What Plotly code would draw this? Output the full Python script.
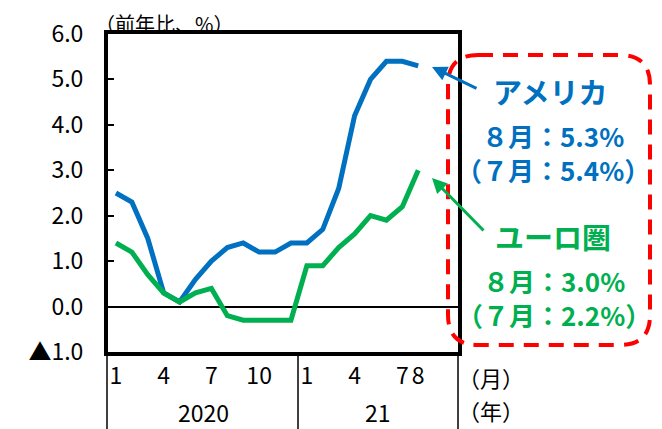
import plotly.graph_objects as go

months_idx = list(range(20))  # Jan 2020 .. Aug 2021
us_cpi = [2.5, 2.3, 1.5, 0.3, 0.1, 0.6, 1.0, 1.3, 1.4, 1.2, 1.2, 1.4,
          1.4, 1.7, 2.6, 4.2, 5.0, 5.4, 5.4, 5.3]
euro_cpi = [1.4, 1.2, 0.7, 0.3, 0.1, 0.3, 0.4, -0.2, -0.3, -0.3, -0.3, -0.3,
            0.9, 0.9, 1.3, 1.6, 2.0, 1.9, 2.2, 3.0]

x_tickvals = [0, 3, 6, 9, 12, 15, 18, 19]
x_ticktext = ["1", "4", "7", "10", "1", "4", "7", "8"]
y_tickvals = [-1, 0, 1, 2, 3, 4, 5, 6]
y_ticktext = ["▲1.0", "0.0", "1.0", "2.0", "3.0", "4.0", "5.0", "6.0"]
years = ["2020", "21"]
year_centers = [5.5, 16.5]

BLUE = "#0070C0"
GREEN = "#00B050"
FONT = "Noto Sans CJK JP"

fig = go.Figure()
fig.add_trace(go.Scatter(x=months_idx, y=us_cpi, mode="lines",
                         line=dict(color=BLUE, width=5), name="アメリカ"))
fig.add_trace(go.Scatter(x=months_idx, y=euro_cpi, mode="lines",
                         line=dict(color=GREEN, width=5), name="ユーロ圏"))

# the page body adds an 8px offset; screen coordinates are used below
OFF = 8
SL, SR, ST, SB = 108, 458, 34, 352   # plot area in screen pixels
W, H = 662 - OFF, 429 - OFF
L, T = SL - OFF, ST - OFF
R, B = 662 - SR, 429 - SB
pw, ph = SR - SL, SB - ST

def px(x):
    return (x - SL) / pw

def py(y):
    return (SB - y) / ph

fig.update_layout(
    width=W, height=H,
    margin=dict(l=L, r=R, t=T, b=B, pad=0, autoexpand=False),
    paper_bgcolor="white", plot_bgcolor="white",
    showlegend=False,
    font=dict(family=FONT, color="black"),
    xaxis=dict(range=[-0.5, 21.5], tickmode="array", tickvals=x_tickvals,
               ticktext=x_ticktext, tickangle=0, showgrid=False, zeroline=False,
               showline=True, linecolor="black", linewidth=4, mirror=True,
               ticks="", ticklabelstandoff=0, automargin=False,
               tickfont=dict(size=23, family=FONT, color="black")),
    yaxis=dict(range=[-1, 6], tickmode="array", tickvals=y_tickvals,
               ticktext=y_ticktext, showgrid=False, automargin=False,
               zeroline=True, zerolinecolor="black", zerolinewidth=1.5,
               showline=True, linecolor="black", linewidth=4, mirror=True,
               ticks="inside", ticklen=6, tickwidth=2, tickcolor="black",
               ticklabelstandoff=16,
               tickfont=dict(size=23, family=FONT, color="black")),
)

shapes = []
# group dividers below the x axis
for xp in [107, 298, 458]:
    shapes.append(dict(type="line", xref="paper", yref="paper",
                       x0=px(xp), x1=px(xp), y0=py(352), y1=py(432),
                       line=dict(color="black", width=1.5)))

# red dashed rounded box
x0, x1 = px(448), px(650)
yt, yb = py(55), py(345)
rx, ry = 30 / pw, 30 / ph
path = (f"M {x0+rx},{yt} L {x1-rx},{yt} Q {x1},{yt} {x1},{yt-ry} "
        f"L {x1},{yb+ry} Q {x1},{yb} {x1-rx},{yb} "
        f"L {x0+rx},{yb} Q {x0},{yb} {x0},{yb+ry} "
        f"L {x0},{yt-ry} Q {x0},{yt} {x0+rx},{yt} Z")
shapes.append(dict(type="path", xref="paper", yref="paper", path=path,
                   line=dict(color="#FF0000", width=4, dash="15px,10px"),
                   fillcolor="rgba(0,0,0,0)", layer="above"))
fig.update_layout(shapes=shapes)

ann = []
# arrows
ann.append(dict(xref="paper", yref="paper", x=px(432), y=py(67), ax=46, ay=22,
                showarrow=True, arrowhead=2, arrowsize=1, arrowwidth=3,
                arrowcolor=BLUE, text=""))
ann.append(dict(xref="paper", yref="paper", x=px(432), y=py(178), ax=53, ay=54,
                showarrow=True, arrowhead=2, arrowsize=1, arrowwidth=3,
                arrowcolor=GREEN, text=""))

def txt(text, x, y, size, color, bold=False, yanchor="middle"):
    t = f"<b>{text}</b>" if bold else text
    return dict(xref="paper", yref="paper", x=px(x), y=py(y), text=t,
                showarrow=False, xanchor="center", yanchor=yanchor,
                align="center", borderpad=0,
                font=dict(size=size, color=color, family=FONT))

ann.append(txt("アメリカ", 550, 91, 29, BLUE, True))
ann.append(txt("８月：5.3%<br>（７月：5.4%）", 553, 152, 26, BLUE, True))
ann.append(txt("ユーロ圏", 553, 236, 29, GREEN, True))
ann.append(txt("８月：3.0%<br>（７月：2.2%）", 554, 297, 26, GREEN, True))

ann.append(txt("（前年比、%）", 164, 8.5, 20, "black", yanchor="top"))
ann.append(txt("（月）", 491, 377, 22, "black"))
ann.append(txt("（年）", 491, 410, 22, "black"))

for label, xc in zip(years, year_centers):
    ann.append(dict(xref="x", yref="paper", x=xc, y=py(412), text=label,
                    showarrow=False, xanchor="center", yanchor="middle",
                    borderpad=0,
                    font=dict(size=23, color="black", family=FONT)))

fig.update_layout(annotations=ann)
fig.write_html("out.html")
